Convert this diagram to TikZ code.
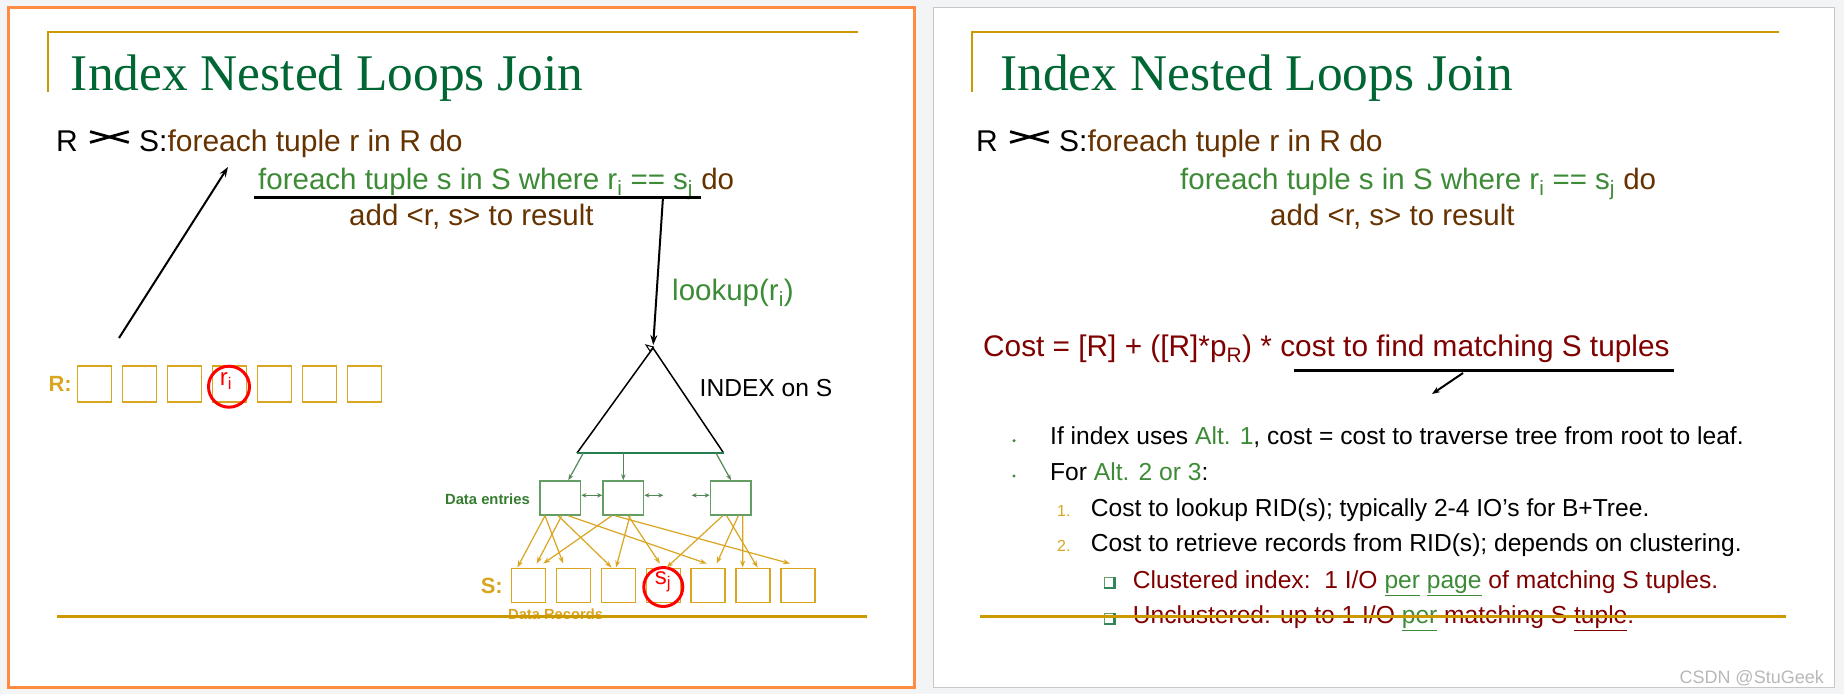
\documentclass[tikz,border=0pt]{standalone}
\usepackage{fontspec}
\newfontfamily\arial{Liberation Sans}
\newfontfamily\titleserif{Liberation Serif}
\usetikzlibrary{arrows.meta}

\definecolor{pagegray}{RGB}{243,244,246}
\definecolor{orangeframe}{RGB}{255,140,66}
\definecolor{slidegold}{RGB}{204,153,0}
\definecolor{boxgold}{RGB}{218,165,32}
\definecolor{titlegreen}{RGB}{0,102,51}
\definecolor{textgreen}{RGB}{61,139,55}
\definecolor{entrygreen}{RGB}{100,158,100}
\definecolor{codebrown}{RGB}{102,51,0}
\definecolor{costred}{RGB}{128,0,0}

\newcommand{\joinsym}{\tikz[baseline=0pt]\draw[draw=black,line width=2.8pt]
  (0,0.31em) -- (1.29em,0.67em) (0,0.67em) -- (1.29em,0.31em);}
\newcommand{\fsz}[1]{\fontsize{#1}{#1}\selectfont}

\begin{document}
\begin{tikzpicture}[x=1pt,y=-1pt,>=Stealth]
    \tikzset{
        txt/.style={inner sep=0pt,anchor=base west,font=\arial\fsz{29.5}},
        bullettxt/.style={txt,font=\arial\fsz{24.6}},
        heading/.style={inner sep=0pt,anchor=base west,text=titlegreen,font=\titleserif\fsz{51.4}},
        rbox/.style={draw=boxgold,line width=1.5pt,minimum width=34.4pt,
            minimum height=35.7pt,inner sep=0pt},
        sbox/.style={rbox,minimum width=34pt,minimum height=34.4pt},
        entry/.style={draw=entrygreen,line width=1.5pt,minimum width=40.7pt,
            minimum height=34pt,inner sep=0pt},
        hit/.style={circle,draw=red,line width=3pt,minimum size=39pt,inner sep=0pt},
        rowlabel/.style={inner sep=0pt,anchor=east,text=boxgold,
            font=\arial\bfseries\fsz{22}},
        goldline/.style={draw=slidegold,line width=2.5pt},
        ptr/.style={->,line width=2pt,>={Stealth[length=10pt,width=7pt]}},
        idx/.style={->,draw=entrygreen!85!black,line width=1.2pt,
            >={Stealth[length=6pt,width=4.5pt]}},
        link/.style={<->,draw=entrygreen!85!black,line width=1.5pt,
            >={Stealth[length=5pt,width=4.5pt]}},
        rec/.style={->,draw=boxgold,line width=1.2pt,
            >={Stealth[length=7pt,width=5pt]}},
        boxmark/.style={draw=entrygreen,fill=white,line width=0.8pt,
            minimum size=10pt,inner sep=0pt},
        boxshade/.style={draw=titlegreen!80,line width=2.2pt}
    }

    \fill[pagegray] (0,0) rectangle (1844,694);
    \useasboundingbox (0,0) rectangle (1844,694);
    \filldraw[fill=white,draw=orangeframe,line width=3pt] (8,7) rectangle (914,687);
    \filldraw[fill=white,draw=black!22,line width=1pt] (933,7) rectangle (1834,687);

    % left slide
    \draw[goldline] (48,92) -- (48,32) -- (858,32);
    \node[heading] (title-l) at (70.7,90) {Index Nested Loops Join};

    \node[txt,font=\arial\fsz{30}] (outer-l) at (56,151.7)
        {R\hspace{0.36em}\joinsym\hspace{0.3em}S:\textcolor{codebrown}{foreach tuple r in R do}};
    \node[txt,text=textgreen] (inner-l) at (258,189)
        {foreach tuple s in S where r\textsubscript{i} == s\textsubscript{j} \textcolor{codebrown}{do}};
    \node[txt,text=codebrown] (add-l) at (349,225) {add <r, s> to result};

    \coordinate (ul-a) at (253.5,197);
    \coordinate (ul-b) at (701,197);
    \coordinate (ul-c) at (663,197);
    \draw[line width=3pt] (ul-a) -- (ul-b);

    \node[rowlabel] (r-label) at (72,384) {R:};
    \foreach \i in {1,...,7}
        \node[rbox] (r\i) at ({94.5+45*(\i-1)},384) {};
    \node[hit,minimum size=41pt] (ri-mark) at (229,386.7) {};
    \node[inner sep=0pt,text=red,font=\arial\fsz{24}] (ri) at (226,381) {r\textsubscript{i}};

    \coordinate (up-tail) at (119,338);
    \coordinate (up-tip) at (228,167);
    \draw[ptr] (up-tail) -- (up-tip);

    \coordinate (apex) at (653,348);
    \coordinate (base-l) at (577,453);
    \coordinate (base-r) at (723.6,453);
    \draw[line width=1.5pt] (base-l) -- (apex) -- (base-r);
    \draw[draw=titlegreen!85,line width=1.5pt] (base-l) -- (base-r);
    \draw[line width=1pt] (646,345) -- (653.5,347) -- (650,351) -- cycle;
    \draw[ptr,shorten >=3pt] (ul-c) -- (apex);

    \node[txt,text=textgreen] (lookup) at (672,300) {lookup(r\textsubscript{i})};
    \node[txt,font=\arial\fsz{24.6}] (index-on) at (699.5,396.7) {INDEX on S};

    \node[entry] (e1) at (560.3,498) {};
    \node[entry] (e2) at (623.3,498) {};
    \node[entry] (e3) at (730.7,498) {};
    \node[inner sep=0pt,anchor=east,text=textgreen!90!black,font=\arial\bfseries\fsz{14.8}]
        (entries) at (530,499) {Data entries};

    \draw[idx] ([xshift=6.3pt]base-l) -- ([xshift=8pt]e1.north);
    \draw[idx] ([xshift=46.3pt]base-l) -- (e2.north);
    \draw[idx] ([xshift=-7.6pt]base-r) -- ([xshift=0.3pt]e3.north);

    \coordinate (gap-a) at (663.3,495.3);
    \coordinate (gap-b) at (691.7,495.3);
    \draw[link] ([yshift=2.7pt]e1.east) -- ([yshift=2.7pt]e2.west);
    \draw[link] ([yshift=2.7pt]e2.east) -- (gap-a);
    \draw[link] (gap-b) -- ([yshift=2.7pt]e3.west);

    \node[rowlabel] (s-label) at (503,586) {S:};
    \foreach \i in {1,...,7}
        \node[sbox] (s\i) at ({528.7+44.85*(\i-1)},585.5) {};
    \node[hit] (sj-mark) at (663.3,587) {};
    \node[inner sep=0pt,text=red,font=\arial\fsz{24}] (sj) at (663,582) {s\textsubscript{j}};

    \foreach \e/\dx/\s/\ex/\ey in {e1/-15.3/s1/-11.4/0, e1/1.4/s1/8/4, e2/-11.6/s1/14.6/4,
        e1/-15.3/s2/-10.3/4, e1/-2/s3/-6.7/0, e2/6.7/s3/-2.4/0, e2/5/s4/-3.3/4,
        e3/-8/s4/3.4/0, e1/8/s5/-1.4/4, e3/7.6/s5/8.6/4, e3/12/s6/-10.3/0,
        e3/-4/s6/4.7/0, e2/-8.3/s7/-7.8/4}
        \draw[rec] ([xshift=\dx pt]\e.south) -- ([xshift=\ex pt,yshift=\ey pt]\s.north);

    \node[inner sep=0pt,anchor=base west,text=boxgold,font=\arial\bfseries\fsz{14.7}]
        (records) at (508,619) {Data Records};
    \draw[goldline] (57,616.7) -- (867,616.7);

    % right slide
    \draw[goldline] (972,92) -- (972,32) -- (1779,32);
    \node[heading] (title-r) at (1000,90) {Index Nested Loops Join};

    \node[txt,font=\arial\fsz{30}] (outer-r) at (976,151.7)
        {R\hspace{0.36em}\joinsym\hspace{0.3em}S:\textcolor{codebrown}{foreach tuple r in R do}};
    \node[txt,text=textgreen] (inner-r) at (1180,189)
        {foreach tuple s in S where r\textsubscript{i} == s\textsubscript{j} \textcolor{codebrown}{do}};
    \node[txt,text=codebrown] (add-r) at (1270,225) {add <r, s> to result};

    \node[txt,text=costred,font=\arial\fsz{29.8}] (cost) at (983,356.7)
        {Cost = [R] + ([R]*p\textsubscript{R}) * cost to find matching S tuples};
    \coordinate (cu-a) at (1294,370);
    \coordinate (cu-b) at (1674,370);
    \coordinate (cu-c) at (1463,373);
    \coordinate (cu-d) at (1432,394);
    \draw[line width=3pt] (cu-a) -- (cu-b);
    \draw[->,line width=2pt,>={Stealth[length=8pt,width=6pt]}] (cu-c) -- (cu-d);

    \fill[textgreen] (1014,440.7) circle (1.7);
    \fill[textgreen] (1014,476) circle (1.7);
    \node[bullettxt] (alt-one) at (1050,444)
        {If index uses \textcolor{textgreen}{Alt. 1}, cost = cost to traverse tree from root to leaf.};
    \node[bullettxt] (alt-two) at (1050,480) {For \textcolor{textgreen}{Alt. 2 or 3}:};
    \node[txt,text=boxgold,font=\arial\fsz{16}] (num-1) at (1057,516.7) {1.};
    \node[txt,text=boxgold,font=\arial\fsz{16}] (num-2) at (1057,551.7) {2.};
    \node[bullettxt] (step-1) at (1090.7,516.7)
        {Cost to lookup RID(s); typically 2-4 IO’s for B+Tree.};
    \node[bullettxt] (step-2) at (1090.7,551.7)
        {Cost to retrieve records from RID(s); depends on clustering.};

    \node[boxmark] (sq-1) at (1109,582.5) {};
    \node[boxmark] (sq-2) at (1109,618.3) {};
    \draw[boxshade] (sq-1.south west) -- (sq-1.south east) -- (sq-1.north east);
    \draw[boxshade] (sq-2.south west) -- (sq-2.south east) -- (sq-2.north east);
    \node[bullettxt,text=costred] (clustered) at (1132.7,588.3)
        {Clustered index:\ \ 1 I/O \textcolor{textgreen}{\underline{per}} \textcolor{textgreen}{\underline{page}} of matching S tuples.};
    \node[bullettxt,text=costred] (unclustered) at (1132.7,623.3)
        {Unclustered: up to 1 I/O \textcolor{textgreen}{\underline{per}} matching S \underline{tuple}.};
    \draw[goldline] (980,616.7) -- (1786,616.7);

    \node[inner sep=0pt,anchor=base east,text=black!28,font=\arial\fsz{18}]
        (watermark) at (1824,683) {CSDN @StuGeek};
\end{tikzpicture}
\end{document}
